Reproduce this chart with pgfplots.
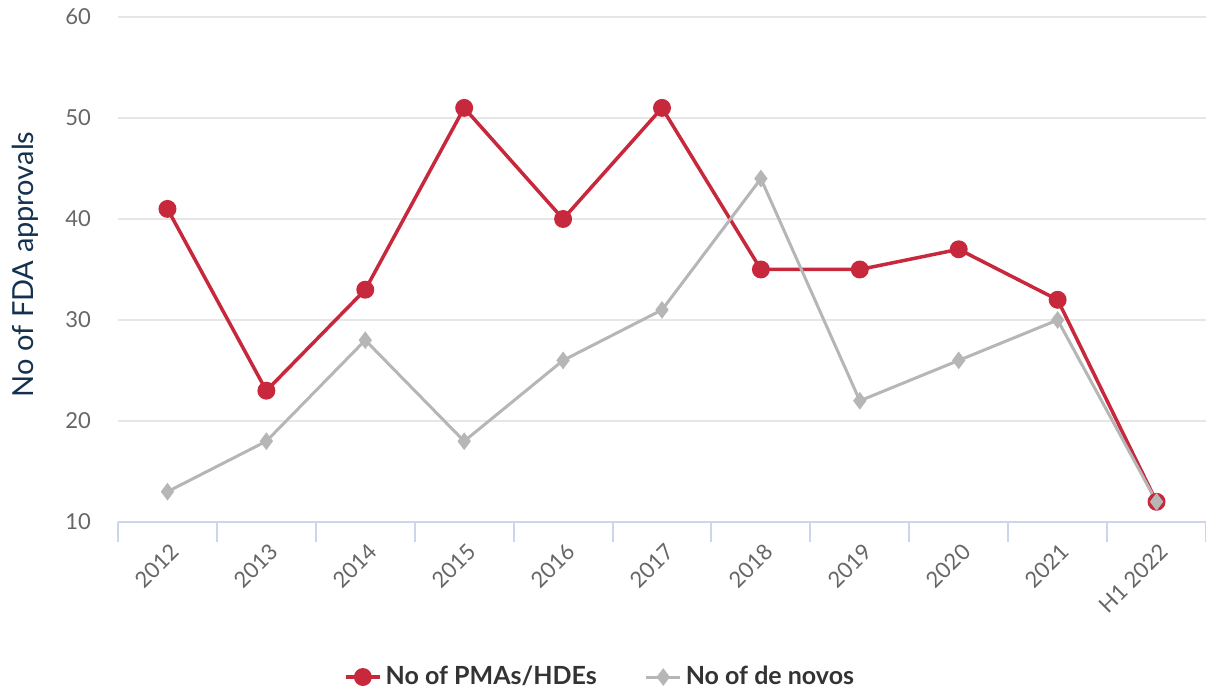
\documentclass[border=0pt]{standalone}
\usepackage{pgfplots}
\pgfplotsset{compat=1.18}
\usepackage{fontspec}
\setmainfont{Lato}
\definecolor{pmared}{RGB}{200,40,60}
\definecolor{novogrey}{RGB}{182,182,182}
\definecolor{ticktext}{RGB}{102,102,102}
\definecolor{ylabcol}{RGB}{20,50,80}
\definecolor{axisblue}{RGB}{204,214,235}
\definecolor{gridgrey}{RGB}{230,230,230}
\definecolor{legtext}{RGB}{51,51,51}
\begin{document}
\begin{tikzpicture}
\useasboundingbox (-59pt,-83.5pt) rectangle (544pt,261pt);
\begin{axis}[
  at={(0,0)}, anchor=south west,
  scale only axis,
  width=544pt, height=252.5pt,
  xmin=-0.5, xmax=10.5,
  ymin=10, ymax=60,
  ytick={10,20,30,40,50,60},
  xtick={0,...,10},
  xticklabels={2012,2013,2014,2015,2016,2017,2018,2019,2020,2021,H1 2022},
  minor xtick={-0.5,0.5,...,10.5},
  major tick length=0pt,
  minor tick length=10pt,
  tick align=outside,
  minor tick style={axisblue, line width=1pt},
  axis x line*=bottom,
  axis y line*=left,
  x axis line style={axisblue, line width=1.2pt, -},
  y axis line style={draw=none},
  ymajorgrids,
  major grid style={gridgrey, line width=0.8pt},
  /pgf/number format/assume math mode=true,
  tick label style={font=\fontsize{11}{13}\selectfont, text=ticktext},
  yticklabel style={xshift=-10pt},
  xticklabel style={rotate=45, anchor=east, yshift=-12pt, xshift=-3pt},
  ylabel={No of FDA approvals},
  ylabel style={at={(axis description cs:-0.0855,0.51)}, anchor=center, font=\fontsize{14.5}{16}\selectfont, text=ylabcol},
  legend columns=2,
  legend style={at={(0.444,-0.307)}, anchor=center, draw=none, fill=none,
    font=\fontsize{12.5}{14}\bfseries\selectfont, text=legtext,
    /tikz/every even column/.append style={column sep=22pt}},
  legend cell align=left,
  clip=false,
]
\addplot[pmared, line width=1.75pt, mark=*, mark size=3.6pt, mark options={fill=pmared, draw=pmared}]
  coordinates {(0,41)(1,23)(2,33)(3,51)(4,40)(5,51)(6,35)(7,35)(8,37)(9,32)(10,12)};
\addlegendentry{No of PMAs/HDEs}
\addplot[novogrey, line width=1.5pt, mark=diamond*, mark size=3.2pt, mark options={fill=novogrey, draw=novogrey}]
  coordinates {(0,13)(1,18)(2,28)(3,18)(4,26)(5,31)(6,44)(7,22)(8,26)(9,30)(10,12)};
\addlegendentry{No of de novos}
\end{axis}
\end{tikzpicture}
\end{document}
